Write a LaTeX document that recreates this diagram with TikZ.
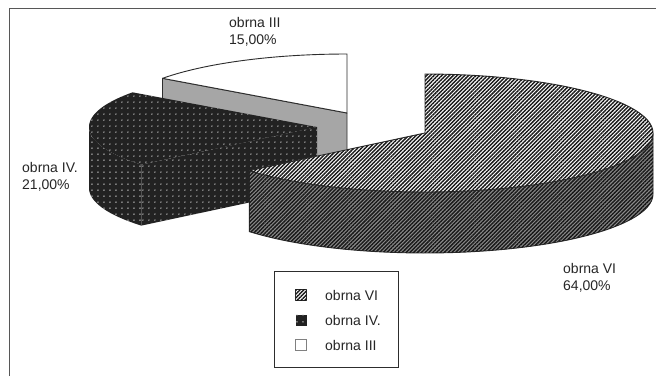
\documentclass[tikz,border=0pt]{standalone}
\usepackage{fontspec}
\setmainfont{Liberation Sans}
\usetikzlibrary{patterns,patterns.meta,calc}
\pgfdeclarepatternformonly{mydots}{\pgfpointorigin}{\pgfqpoint{6.4pt}{6.4pt}}{\pgfqpoint{6.4pt}{6.4pt}}{\pgfpathcircle{\pgfqpoint{3.2pt}{3.2pt}}{0.8pt}\pgfusepath{fill}}
\definecolor{edge}{RGB}{45,45,45}
\definecolor{sidegray}{RGB}{140,140,140}
\definecolor{facegray}{RGB}{166,166,166}
\definecolor{dotdark}{RGB}{34,34,34}
\tikzset{
  outl/.style={draw=edge,line width=0.9pt,line join=round},
  hatchtop/.style={outl,fill=white,postaction={pattern={Lines[angle=45,distance=2.7pt,line width=1.45pt]},pattern color=black!90}},
  hatchside/.style={outl,fill=sidegray,postaction={pattern={Lines[angle=45,distance=2.7pt,line width=1.45pt]},pattern color=black!90}},
  dotted4/.style={fill=dotdark,postaction={pattern=mydots,pattern color=white!85!black}},
  lab/.style={font=\fontsize{14}{16}\selectfont,inner sep=0pt,anchor=base west,text=black!85},
}
\begin{document}
\begin{tikzpicture}[x=1pt,y=-1pt]
\useasboundingbox (0,0) rectangle (656,376);
\fill[white] (0,0) rectangle (656,376);
% frame
\draw[edge!80,line width=1.6pt] (9.5,376) -- (9.5,8.5) -- (656,8.5);
% ---------- slice III (apex 347,113)
\coordinate (C) at (347,113);
\coordinate (Q) at ({347+228*cos(144)},{113-59*sin(144)});
\path[outl,fill=facegray] (C) -- (Q) -- ++(0,61) -- ($(C)+(0,61)$) -- cycle;
\path[outl,fill=white] (C) -- plot[domain=90:144,samples=40,variable=\t] ({347+228*cos(\t)},{113-59*sin(\t)}) -- cycle;
% ---------- slice IV (apex 317,127)
\coordinate (B) at (317,127);
\coordinate (P) at ({317+228*cos(219.6)},{127-59*sin(219.6)});
\path[dotted4] plot[domain=180:219.6,samples=30,variable=\t] ({317+228*cos(\t)},{127-59*sin(\t)}) -- plot[domain=219.6:180,samples=30,variable=\t] ({317+228*cos(\t)},{188-59*sin(\t)}) -- cycle;
\path[dotted4] (B) -- (P) -- ++(0,61) -- ($(B)+(0,61)$) -- cycle;
\path[dotted4] (B) -- plot[domain=144:219.6,samples=40,variable=\t] ({317+228*cos(\t)},{127-59*sin(\t)}) -- cycle;
% ---------- slice VI (apex 425,133)
\coordinate (A) at (425,133);
\path[hatchside] plot[domain=-140.4:0,samples=80,variable=\t] ({425+228*cos(\t)},{133-59*sin(\t)}) -- plot[domain=0:-140.4,samples=80,variable=\t] ({425+228*cos(\t)},{194-59*sin(\t)}) -- cycle;
\path[hatchtop] (A) -- plot[domain=-140.4:90,samples=120,variable=\t] ({425+228*cos(\t)},{133-59*sin(\t)}) -- cycle;
% ---------- labels
\node[lab] (l3a) at (229,27.5) {obrna III};
\node[lab] (l3b) at (229,44) {15,00\%};
\node[lab] (l4a) at (22,172) {obrna IV.};
\node[lab] (l4b) at (22,189) {21,00\%};
\node[lab] (l6a) at (563,273) {obrna VI};
\node[lab] (l6b) at (563,290) {64,00\%};
% ---------- legend
\node[draw=edge,line width=1pt,minimum width=124pt,minimum height=96pt,inner sep=0pt,anchor=north west] (leg) at (274,271) {};
\node[hatchtop,line width=0.5pt,minimum size=11pt,inner sep=0pt] (k1) at (301,295) {};
\node[dotted4,minimum size=11pt,inner sep=0pt] (k2) at (301,320) {};
\node[draw=gray,fill=white,line width=0.5pt,minimum size=11pt,inner sep=0pt] (k3) at (301,345) {};
\node[lab] (t1) at (325,300) {obrna VI};
\node[lab] (t2) at (325,325) {obrna IV.};
\node[lab] (t3) at (325,350) {obrna III};
\end{tikzpicture}
\end{document}
